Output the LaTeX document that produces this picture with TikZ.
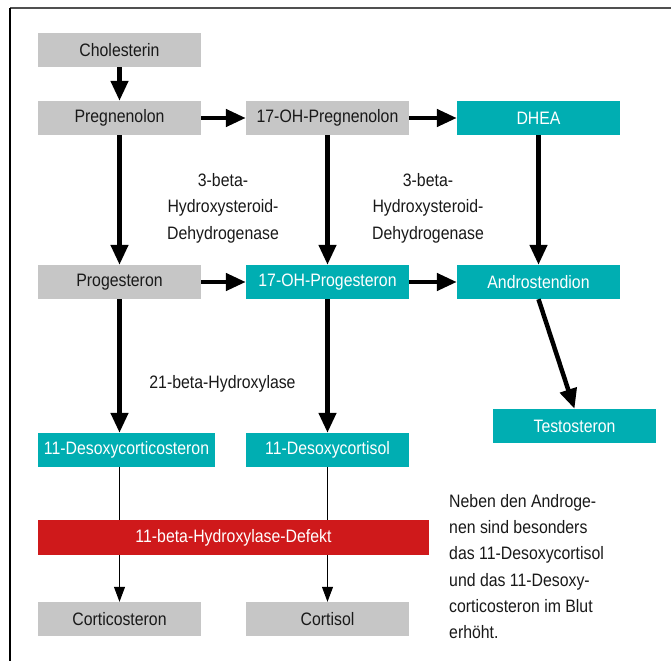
\documentclass[tikz,border=0pt]{standalone}
\usepackage{fontspec}
\setmainfont[FakeStretch=0.88]{Liberation Sans}
\usetikzlibrary{arrows.meta}
\definecolor{boxgray}{RGB}{198,198,198}
\definecolor{teal2}{RGB}{0,174,178}
\definecolor{defred}{RGB}{207,25,27}
\definecolor{framegray}{RGB}{80,80,80}
\definecolor{txt}{RGB}{25,25,25}
\tikzset{
  base/.style={rectangle, inner sep=0pt, minimum height=34pt, minimum width=163pt, font=\fontsize{18}{21}\selectfont},
  graybox/.style={base, fill=boxgray, text=txt},
  tealbox/.style={base, fill=teal2, text=white},
  redbox/.style={base, fill=defred, text=white, minimum height=35pt},
  thickarrow/.style={line width=4.5pt, -{Triangle[length=20pt,width=17pt]}},
  thinline/.style={line width=1pt},
  thinarrow/.style={line width=1pt, -{Triangle[length=15pt,width=11pt]}},
  lbl/.style={align=center, text=txt, inner sep=0pt, font=\fontsize{18}{26.5}\selectfont},
}
\begin{document}
\begin{tikzpicture}[x=1pt,y=-1pt]
\useasboundingbox (0,0) rectangle (671,661);
\fill[white] (0,0) rectangle (671,661);
% frame
\draw[framegray, line width=1.6pt] (10,8) -- (671,8);
\draw[black, line width=1.6pt] (10,8) -- (10,661);
% nodes
\node[graybox] (chol) at (119.5,50) {Cholesterin};
\node[graybox] (preg) at (119.5,118) {Pregnenolon};
\node[graybox] (ohpreg) at (327.5,118) {17-OH-Pregnenolon};
\node[tealbox] (dhea) at (538.5,118) {DHEA};
\node[graybox] (prog) at (119.5,282) {Progesteron};
\node[tealbox] (ohprog) at (327.5,282) {17-OH-Progesteron};
\node[tealbox] (andro) at (538.5,282) {Androstendion};
\node[tealbox] (testo) at (574.5,426) {Testosteron};
\node[tealbox, minimum width=177pt] (doc) at (126.5,450) {11-Desoxycorticosteron};
\node[tealbox] (docort) at (327.5,450) {11-Desoxycortisol};
\node[redbox, minimum width=391pt] (defekt) at (233.5,537.5) {11-beta-Hydroxylase-Defekt};
\node[graybox] (cortico) at (119.5,619) {Corticosteron};
\node[graybox] (cortisol) at (327.5,619) {Cortisol};
% labels
\node[lbl] (l1) at (223,208) {3-beta-\\Hydroxysteroid-\\Dehydrogenase};
\node[lbl] (l2) at (428,208) {3-beta-\\Hydroxysteroid-\\Dehydrogenase};
\node[lbl] (l3) at (222.5,384) {21-beta-Hydroxylase};
\node[align=left, anchor=west, text=txt, inner sep=0pt, font=\fontsize{18}{26.2}\selectfont] (note) at (449,566.5)
  {Neben den Androge-\\nen sind besonders\\das 11-Desoxycortisol\\und das 11-Desoxy-\\corticosteron im Blut\\erhöht.};
% thick arrows
\draw[thickarrow] (chol) -- (preg);
\draw[thickarrow] (preg) -- (ohpreg);
\draw[thickarrow] (ohpreg) -- (dhea);
\draw[thickarrow] (preg) -- (prog);
\draw[thickarrow] (ohpreg) -- (ohprog);
\draw[thickarrow] (dhea) -- (andro);
\draw[thickarrow] (prog) -- (ohprog);
\draw[thickarrow] (ohprog) -- (andro);
\draw[thickarrow] (andro.south) -- (testo.north);
\draw[thickarrow] (prog.south) -- (prog.south |- doc.north);
\draw[thickarrow] (ohprog) -- (docort);
% thin lines through the defect
\draw[thinline] (cortico.north |- doc.south) -- (cortico.north |- defekt.north);
\draw[thinarrow] (cortico.north |- defekt.south) -- (cortico.north);
\draw[thinline] (docort.south) -- (docort.south |- defekt.north);
\draw[thinarrow] (cortisol.north |- defekt.south) -- (cortisol.north);
\end{tikzpicture}
\end{document}
